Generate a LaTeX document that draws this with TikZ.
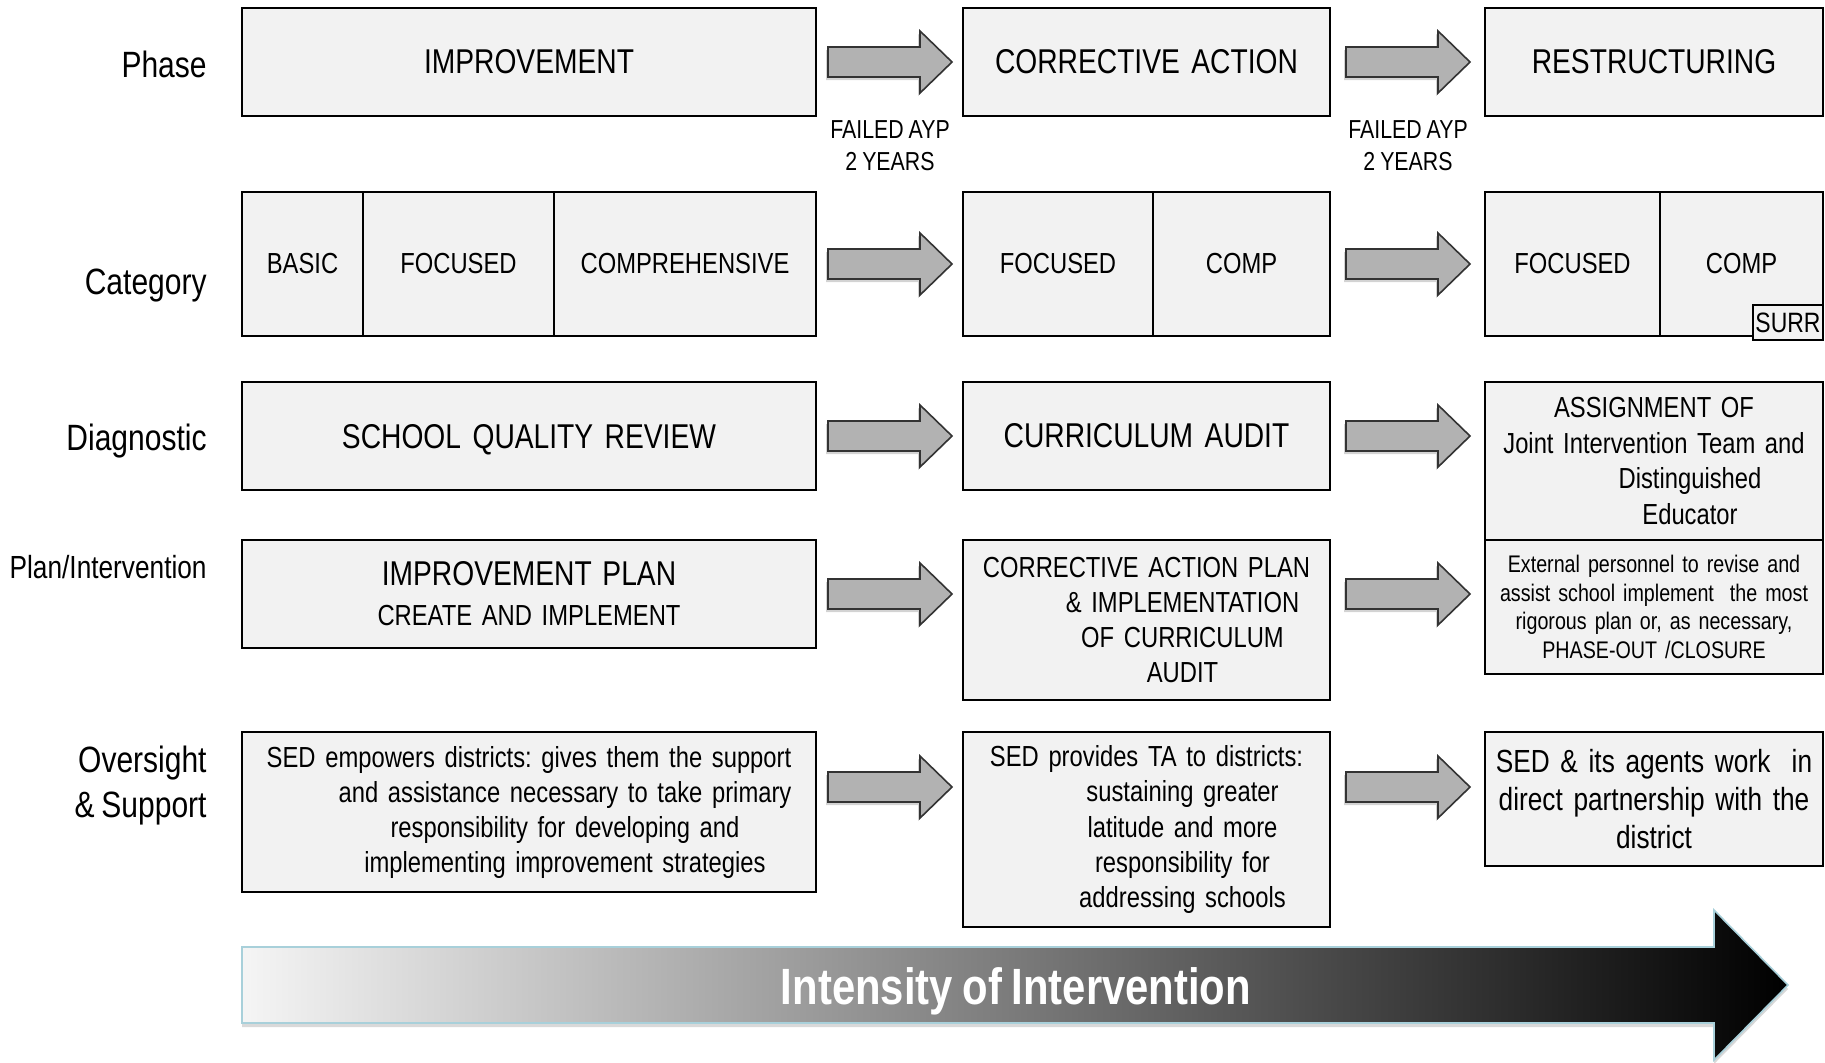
\documentclass[tikz,border=0pt]{standalone}
\usepackage{fontspec}
\setmainfont{Liberation Sans}[FakeStretch=0.82]
\usetikzlibrary{calc,shadows}

\definecolor{boxfill}{RGB}{242,242,242}
\definecolor{arrowfill}{RGB}{178,178,178}
\definecolor{rimblue}{RGB}{168,208,218}

\newcommand{\txtsize}[2]{\fontsize{#1}{#2}\selectfont\spaceskip=0.19em plus 0.05em\relax}
\newcommand{\phfont}{\txtsize{17.2}{20.6}}
\newcommand{\catfont}{\txtsize{14.5}{17.5}}
\newcommand{\labfont}{\txtsize{18.3}{22}}
\newcommand{\indl}{\hspace*{36pt}}
\frenchspacing

\tikzset{
  box/.style={draw=black, line width=1.1pt, fill=boxfill, inner sep=0pt, align=center},
  lab/.style={inner sep=0pt, font=\labfont},
  blockarrow/.style={draw=black!80, line width=0.8pt, fill=arrowfill,
    drop shadow={shadow xshift=-1pt, shadow yshift=-1.5pt, opacity=0.35}},
  blk/.pic={\draw[blockarrow] (-62,-15) -- (30,-15) -- (30,-31) -- (62,0)
    -- (30,31) -- (30,15) -- (-62,15) -- cycle;},
}

\begin{document}
\begin{tikzpicture}[x=0.5pt, y=-0.5pt]
    \useasboundingbox (0,0) rectangle (1825,1062);

    % row labels
    \node[lab, anchor=base east] (lphase) at (207,77) {Phase};
    \node[lab, anchor=base east] (lcat) at (207,294) {Category};
    \node[lab, anchor=base east] (ldiag) at (207,450) {Diagnostic};
    \node[lab, anchor=base east, font=\txtsize{16}{19}] (lplan) at (207,578) {Plan/Intervention};
    \node[lab, anchor=base east] (lover) at (207,772) {Oversight};
    \node[lab, anchor=base east] (lsupp) at (207,817) {\& Support};

    % phase
    \node[box, text width=287pt, minimum height=54pt, font=\phfont] (imp) at (529,62) {IMPROVEMENT};
    \node[box, text width=183.5pt, minimum height=54pt, font=\phfont] (corr) at (1146.5,62) {CORRECTIVE ACTION};
    \node[box, text width=169pt, minimum height=54pt, font=\phfont] (restr) at (1654,62) {RESTRUCTURING};

    \node[font=\txtsize{13}{16}, align=center, inner sep=0pt] (fail1) at (890,146) {FAILED AYP\\2 YEARS};
    \node[font=\txtsize{13}{16}, align=center, inner sep=0pt] (fail2) at (1408,146) {FAILED AYP\\2 YEARS};

    % category
    \node[box, text width=60.5pt, minimum height=72pt, font=\catfont] (basic) at (302.5,264) {BASIC};
    \node[box, text width=95.5pt, minimum height=72pt, font=\catfont] (foc1) at (458.5,264) {FOCUSED};
    \node[box, text width=131pt, minimum height=72pt, font=\catfont] (comp1) at (685,264) {COMPREHENSIVE};
    \node[box, text width=95pt, minimum height=72pt, font=\catfont] (foc2) at (1058,264) {FOCUSED};
    \node[box, text width=88.5pt, minimum height=72pt, font=\catfont] (comp2) at (1241.5,264) {COMP};
    \node[box, text width=87.5pt, minimum height=72pt, font=\catfont] (foc3) at (1572.5,264) {FOCUSED};
    \node[box, text width=81.5pt, minimum height=72pt, font=\catfont] (comp3) at (1741.5,264) {COMP};
    \node[box, text width=35pt, minimum height=17.5pt, font=\txtsize{14}{16}] (surr) at (1788,322.5) {SURR};

    % diagnostic
    \node[box, text width=287pt, minimum height=54pt, text depth=0pt, font=\phfont] (sqr) at (529,436) {SCHOOL QUALITY REVIEW};
    \node[box, text width=183.5pt, minimum height=54pt, font=\phfont] (caud) at (1146.5,436) {CURRICULUM AUDIT};
    \node[box, text width=169pt, minimum height=79pt, font=\txtsize{14.5}{17.8}] (assign) at (1654,461)
        {ASSIGNMENT OF\\Joint Intervention Team and\\\indl Distinguished\\\indl Educator};

    % plan / intervention
    \node[box, text width=287pt, minimum height=54pt, font=\txtsize{14.5}{20}] (iplan) at (529,594)
        {{\txtsize{17.2}{20}IMPROVEMENT PLAN}\\CREATE AND IMPLEMENT};
    \node[box, text width=183.5pt, minimum height=80pt, font=\catfont] (caplan) at (1146.5,620)
        {CORRECTIVE ACTION PLAN\\\indl\& IMPLEMENTATION\\\indl OF CURRICULUM\\\indl AUDIT};
    \node[box, text width=169pt, minimum height=67pt, font=\txtsize{12}{14.4}] (ext) at (1654,607)
        {External personnel to revise and\\assist school implement\ \ the most\\rigorous plan or, as necessary,\\PHASE-OUT /CLOSURE};

    % oversight & support
    \node[box, text width=287pt, minimum height=80pt, font=\catfont] (sede) at (529,812)
        {SED empowers districts: gives them the support\\\indl and assistance necessary to take primary\\\indl responsibility for developing and\\\indl implementing improvement strategies};
    \node[box, text width=183.5pt, minimum height=97.5pt, font=\txtsize{14.5}{17.6}] (sedp) at (1146.5,829.5)
        {SED provides TA to districts:\\\indl sustaining greater\\\indl latitude and more\\\indl responsibility for\\\indl addressing schools};
    \node[box, text width=169pt, minimum height=67pt, font=\txtsize{16}{19.2}] (seda) at (1654,799)
        {SED \& its agents work\ \ in\\direct partnership with the\\district};

    % block arrows between the columns
    \coordinate (g1) at (890,0);
    \coordinate (g2) at (1408,0);
    \pic at (g1 |- imp) {blk};
    \pic at (g2 |- imp) {blk};
    \pic at (g1 |- comp1) {blk};
    \pic at (g2 |- comp1) {blk};
    \pic at (g1 |- sqr) {blk};
    \pic at (g2 |- sqr) {blk};
    \pic at (g1 |- iplan) {blk};
    \pic at (g2 |- iplan) {blk};
    \pic at ($(g1 |- sede)+(0,-25)$) {blk};
    \pic at ($(g2 |- sede)+(0,-25)$) {blk};

    % intensity arrow
    \path[draw=rimblue, line width=0.8pt, left color=black!4, right color=black,
        drop shadow={shadow xshift=0pt, shadow yshift=-2pt, opacity=0.3}]
        (242,947) -- (1714,947) -- (1714,910) -- (1788,985) -- (1714,1060)
        -- (1714,1023) -- (242,1023) -- cycle;
    \node[font=\bfseries\txtsize{25.5}{30}, text=white, anchor=base] (intens) at (1016,1004) {Intensity of Intervention};
\end{tikzpicture}
\end{document}
